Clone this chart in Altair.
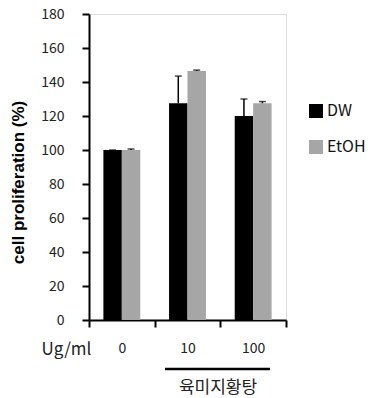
import altair as alt
import pandas as pd

doses = ["0", "10", "100"]
series = ["DW", "EtOH"]
dw_values = [100, 127.5, 120]
dw_errors = [0, 16, 10]
etoh_values = [100, 146.5, 127.5]
etoh_errors = [0.6, 0.5, 1]

rows = []
for i, d in enumerate(doses):
    rows.append({"dose": d, "series": "DW", "value": dw_values[i], "top": dw_values[i] + dw_errors[i]})
    rows.append({"dose": d, "series": "EtOH", "value": etoh_values[i], "top": etoh_values[i] + etoh_errors[i]})
df = pd.DataFrame(rows)

FONT = "Noto Sans CJK KR"

x_axis = alt.Axis(tickBand="extent", labelAngle=0, labelFontSize=14, labelFont=FONT,
                  labelColor="#222", labelPadding=14, tickSize=7, tickWidth=2,
                  domainWidth=2, domainColor="#000", tickColor="#000")
x_scale = alt.Scale(paddingInner=0, paddingOuter=0)
x = alt.X("dose:N", sort=doses, title=None, scale=x_scale, axis=x_axis)
xo = alt.XOffset("series:N", sort=series, scale=alt.Scale(paddingInner=0, paddingOuter=0.78))

y_axis = alt.Axis(values=list(range(0, 181, 20)), grid=False, labelFontSize=14, labelFont=FONT,
                  labelColor="#222", labelPadding=18, tickSize=7, tickWidth=2,
                  labelOverlap=False, labelFlush=False,
                  domainWidth=2, domainColor="#000", tickColor="#000",
                  titleFont="Liberation Sans", titleFontWeight="bold", titleFontSize=17,
                  titleColor="#000", titlePadding=13, titleY=168)
y_scale = alt.Scale(domain=[0, 180], nice=False)
y = alt.Y("value:Q", title="cell proliferation (%)", scale=y_scale, axis=y_axis)
y_top = alt.Y("top:Q", title="cell proliferation (%)", scale=y_scale, axis=y_axis)

color = alt.Color("series:N", sort=series, title=None,
                  scale=alt.Scale(domain=series, range=["#000000", "#a6a6a6"]),
                  legend=alt.Legend(orient="none", legendX=219, legendY=89, symbolType="square",
                                    symbolSize=196, symbolStrokeWidth=0, labelFontSize=16,
                                    labelFont=FONT, labelColor="#111", rowPadding=20, padding=0,
                                    labelOffset=3))

base = alt.Chart(df)
bars = base.mark_bar(stroke=None).encode(x=x, xOffset=xo, y=y, color=color)
err = base.mark_rule(color="#000", strokeWidth=1.5).encode(
    x=x, xOffset=xo, y=y, y2="top:Q")
cap = base.mark_tick(color="#000", size=7, thickness=1.5).encode(
    x=x, xOffset=xo, y=y_top)

ann_df = pd.DataFrame({"label": ["Ug/ml"]})
ug = alt.Chart(ann_df).mark_text(font=FONT, fontSize=17, color="#222", align="center", baseline="middle").encode(
    text="label:N", x=alt.value(-22.5), y=alt.value(336))
kor_df = pd.DataFrame({"label": ["육미지황탕"]})
kor = alt.Chart(kor_df).mark_text(font=FONT, fontSize=17, color="#222", align="center", baseline="middle").encode(
    text="label:N", x=alt.value(129), y=alt.value(374))
line = alt.Chart(ann_df).mark_rule(color="#000", strokeWidth=2.5).encode(
    x=alt.value(76), x2=alt.value(181), y=alt.value(355))

chart = alt.layer(bars, err, cap, ug, kor, line).properties(
    width=197, height=306,
    autosize=alt.AutoSizeParams(type="none"),
    padding={"left": 89, "top": 14, "right": 82, "bottom": 78},
).configure_view(stroke=None).configure(background="white")

chart.save("out.html", embed_options={"renderer": "svg", "actions": False})
